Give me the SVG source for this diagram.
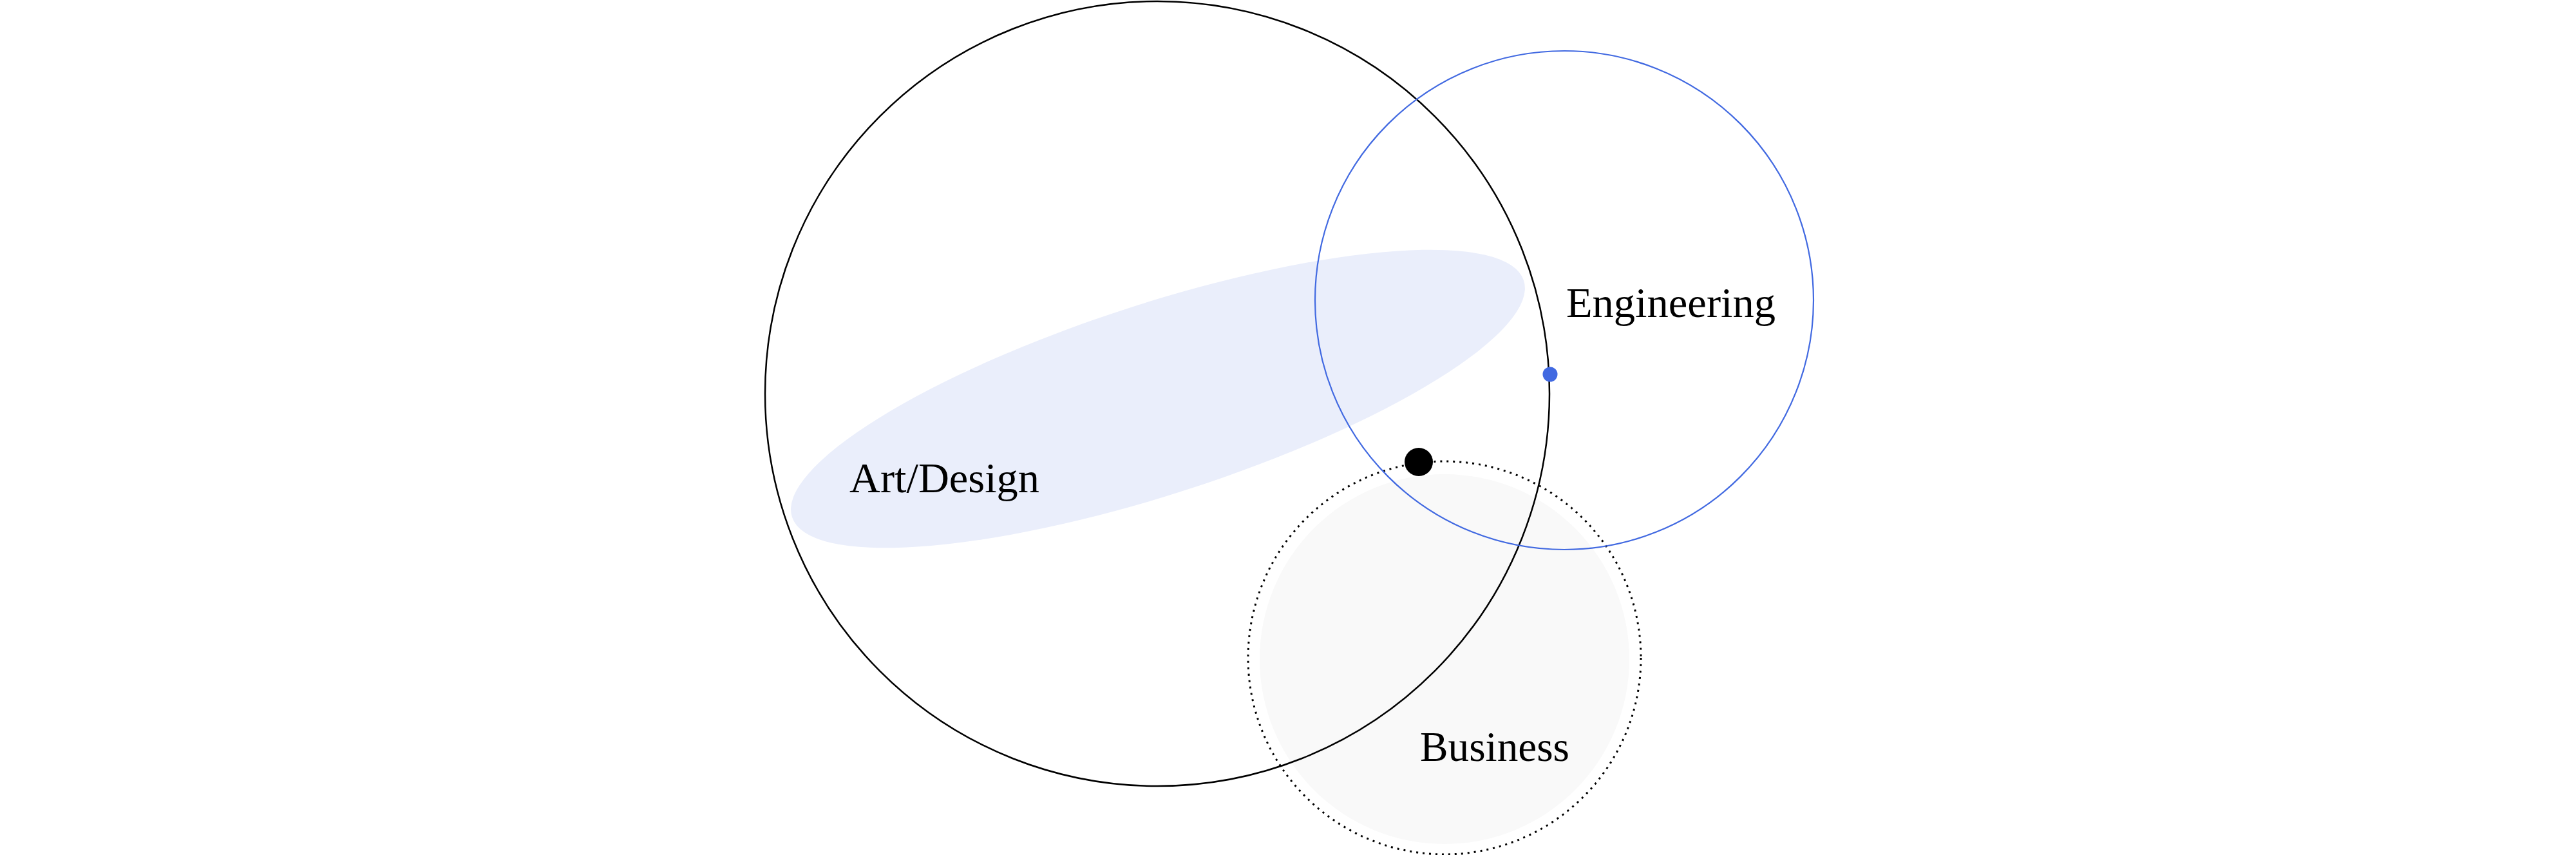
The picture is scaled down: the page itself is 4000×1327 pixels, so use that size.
<svg xmlns="http://www.w3.org/2000/svg" width="4000" height="1327" viewBox="0 0 4000 1327">
  <style>
    .label { font-family: "Liberation Serif", "DejaVu Serif", serif; font-size: 65px; fill: #000; }
  </style>
  <rect x="0" y="0" width="4000" height="1327" fill="#ffffff"/>
  <g id="business">
    <circle cx="2243" cy="1023" r="287" fill="#f9f9f9"/>
    <circle cx="2243" cy="1021" r="305" fill="none" stroke="#000" stroke-width="3" stroke-dasharray="3 7"/>
  </g>
  <g id="overlap-ellipse">
    <ellipse cx="1798" cy="619" rx="597" ry="148" transform="rotate(-17.9 1798 619)" fill="#eaeefb"/>
  </g>
  <g id="art-design">
    <circle cx="1797" cy="611" r="609" fill="none" stroke="#000" stroke-width="2.5"/>
  </g>
  <g id="engineering">
    <circle cx="2429" cy="466" r="387" fill="none" stroke="#4169e1" stroke-width="2.2"/>
  </g>
  <g id="connectors">
    <circle cx="2407" cy="581" r="11.5" fill="#4169e1"/>
    <circle cx="2203" cy="717" r="22" fill="#000"/>
  </g>
  <g id="labels">
    <text class="label" x="1319" y="764" textLength="295" lengthAdjust="spacingAndGlyphs">Art/Design</text>
    <text class="label" x="2432" y="492" textLength="325" lengthAdjust="spacingAndGlyphs">Engineering</text>
    <text class="label" x="2205" y="1181" textLength="232" lengthAdjust="spacingAndGlyphs">Business</text>
  </g>
</svg>
